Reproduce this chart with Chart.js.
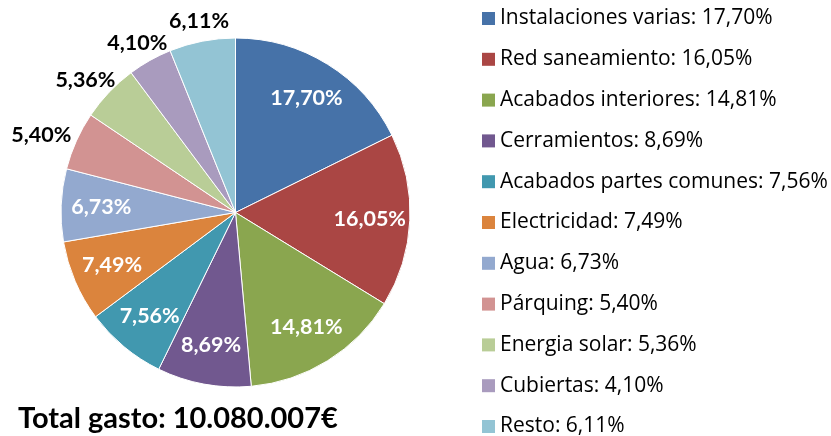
<!DOCTYPE html>
<html>
<head>
<meta charset="utf-8">
<script src="https://cdn.jsdelivr.net/npm/chart.js@4"></script>
<style>
  html, body { margin: 0; padding: 0; background: #fff; }
  #wrap { position: relative; width: 831px; height: 436px; }
</style>
</head>
<body>
<div id="wrap"><canvas id="myChart" width="831" height="436"></canvas></div>
<script>
//data
const categories = ["Instalaciones varias", "Red saneamiento", "Acabados interiores", "Cerramientos",
  "Acabados partes comunes", "Electricidad", "Agua", "Párquing", "Energia solar", "Cubiertas", "Resto"];
const percentages = [17.70, 16.05, 14.81, 8.69, 7.56, 7.49, 6.73, 5.40, 5.36, 4.10, 6.11];
const colors = ["#4672A8", "#AA4644", "#8AA64F", "#71588F", "#4198AF", "#DB843D",
  "#93A9CF", "#D29392", "#B9CD97", "#A99BBE", "#93C4D4"];
// slices whose label goes outside the pie
const outside = [false, false, false, false, false, false, false, true, true, true, true];
const totalText = "Total gasto: 10.080.007€";

const fmt = (v) => v.toFixed(2).replace(".", ",") + "%";
const FONT = "Lato, 'Open Sans', sans-serif";

//labels on the slices
const sliceLabels = {
  id: "sliceLabels",
  afterDatasetsDraw(chart) {
    const ctx = chart.ctx;
    const arcs = chart.getDatasetMeta(0).data;
    ctx.save();
    ctx.font = "bold 21.5px " + FONT;
    ctx.textAlign = "center";
    ctx.textBaseline = "middle";
    arcs.forEach((arc, i) => {
      const p = arc.getProps(["x", "y", "startAngle", "endAngle", "outerRadius"], true);
      const mid = (p.startAngle + p.endAngle) / 2;
      const txt = fmt(percentages[i]);
      let x, y;
      if (outside[i]) {
        const w = ctx.measureText(txt).width;
        const r = p.outerRadius + 11;
        x = p.x + Math.cos(mid) * (r + w / 2 * Math.abs(Math.cos(mid)));
        y = p.y + Math.sin(mid) * (r + 10 * Math.abs(Math.sin(mid)));
        ctx.fillStyle = "#000";
      } else {
        const r = p.outerRadius * 0.77;
        x = p.x + Math.cos(mid) * r;
        y = p.y + Math.sin(mid) * r;
        ctx.fillStyle = "#fff";
      }
      ctx.fillText(txt, x, y);
    });
    ctx.restore();
  },
};

//legend + total, drawn by hand
const sideText = {
  id: "sideText",
  afterDraw(chart) {
    const ctx = chart.ctx;
    ctx.save();
    ctx.textBaseline = "middle";
    ctx.textAlign = "left";
    ctx.font = "21px 'Open Sans', sans-serif";
    chart.data.labels.forEach((lab, i) => {
      const y = 18.5 + i * 40.8;
      ctx.fillStyle = colors[i];
      ctx.fillRect(482, y - 6.5, 13, 13);
      ctx.fillStyle = "#000";
      ctx.fillText(lab + ": " + fmt(percentages[i]), 500, y);
    });
    ctx.font = "bold 29px " + FONT;
    ctx.textBaseline = "alphabetic";
    ctx.fillText(totalText, 18, 428);
    ctx.restore();
  },
};

const config = {
  type: "pie",
  data: {
    labels: categories,
    datasets: [{
      data: percentages,
      backgroundColor: colors,
      borderColor: "#fff",
      borderWidth: 1,
    }],
  },
  options: {
    responsive: false,
    animation: false,
    layout: { padding: { left: 60.5, right: 420.5, top: 37.5, bottom: 48.5 } },
    plugins: {
      legend: { display: false },
      tooltip: { enabled: false },
    },
  },
  plugins: [sliceLabels, sideText],
};

const myChart = new Chart(document.getElementById("myChart"), config);
</script>
</body>
</html>
